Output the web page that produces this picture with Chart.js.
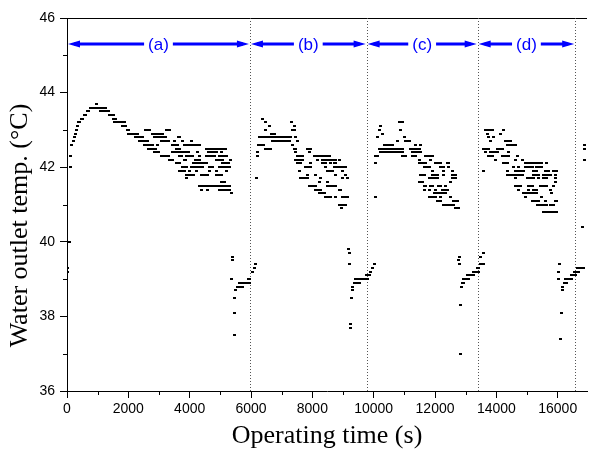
<!DOCTYPE html>
<html>
<head>
<meta charset="utf-8">
<script src="https://cdn.jsdelivr.net/npm/chart.js@4.4.1/dist/chart.umd.min.js"></script>
<style>
  html, body { margin: 0; padding: 0; background: #ffffff; overflow: hidden; }
</style>
</head>
<body>
<canvas id="outletChart" width="590" height="452"></canvas>
<script>
// Water outlet temperature readings.
// One row per 0.1 degC level: [temp, time (s), time (s), ...]
const phaseA = [
  [39.2, 30], [39.3, 0], [40.0, 75],
  [43.7, 960],
  [43.6, 760, 820, 880, 940, 1000, 1060, 1120, 1180, 1240],
  [43.5, 660, 710, 1100, 1160, 1220, 1280, 1340],
  [43.4, 560, 610, 1380, 1440, 1500],
  [43.3, 460, 500, 1520, 1580],
  [43.2, 380, 420, 1560, 1620, 1680, 1740, 1800, 1860],
  [43.1, 335, 1800, 1860, 1920],
  [43.0, 300, 1960, 1990, 2560, 2620, 2680, 3230, 3290, 3340],
  [42.9, 270, 2000, 2060, 2120, 2180, 2240, 2290, 2800, 2860, 2920, 2980, 3040, 3100],
  [42.8, 230, 2220, 2280, 2340, 2400, 2460, 2860, 2920, 2980, 3040, 3100, 3160, 3220, 3620, 3680],
  [42.7, 200, 2380, 2440, 2500, 2560, 2620, 3080, 3140, 3200, 3260, 3320, 3500, 3780, 4050],
  [42.6, 160, 2540, 2600, 2660, 2720, 2780, 2960, 3450, 3510, 3560, 3610, 3840, 3900, 3950, 4000, 4060, 4110, 4160, 4210, 4320],
  [42.5, 2660, 2720, 2780, 2840, 2900, 3560, 3620, 3680, 4540, 4600, 4660, 4720, 4780, 4860, 4980, 5040, 5100, 5180],
  [42.4, 2860, 2920, 2980, 3450, 3510, 3570, 3680, 3740, 3840, 3900, 3960, 4270, 4600, 4650, 4700, 4760, 4810, 4860, 5030],
  [42.3, 130, 3080, 3140, 3200, 3260, 3320, 3680, 3740, 3890, 3950, 4000, 4060, 4100, 4320, 4540, 4600, 4650, 4700, 4750, 4810, 4980, 5030, 5080, 5130, 5190],
  [42.2, 3340, 3400, 3450, 3840, 3880, 4200, 4260, 4310, 4870, 4920, 4980, 5030, 5080, 5340],
  [42.1, 3560, 3610, 3660, 4110, 4160, 4220, 4270, 4320, 4430, 4490, 4540, 5080, 5150, 5220, 5280],
  [42.0, 100, 3780, 3840, 3890, 4050, 4110, 4160, 4270, 4320, 4380, 4430, 4650, 4700, 4760, 4980, 5030, 5080, 5130, 5190, 5300],
  [41.9, 3680, 3730, 3780, 3840, 4000, 4220, 4650, 4870, 5190],
  [41.8, 3890, 3950, 4000, 4050, 4110, 4380, 4430, 4490, 4590, 4870, 4920, 4980, 5030],
  [41.7, 3890],
  [41.6, 5030, 5080, 5130],
  [41.5, 4320, 4380, 4430, 4490, 4540, 4590, 4650, 4700, 4760, 4810, 4860, 4980, 5030, 5080, 5130, 5190, 5240, 5300],
  [41.4, 4380, 4590, 4980, 5030, 5080, 5130, 5190, 5240, 5300],
  [41.3, 5350],
  [39.6, 5390], [39.5, 5390], [39.0, 5370, 5910, 5950],
  [38.9, 5610, 5660, 5710, 5760, 5810, 5860, 5910, 5960],
  [38.8, 5554, 5610, 5660, 5716],
  [38.7, 5500], [38.5, 5468], [38.1, 5468], [37.5, 5446]
];

const phaseB = [
  [39.2, 6060], [39.3, 6110], [39.4, 6146, 9200], [39.7, 9225], [39.8, 9170],
  [43.3, 6384],
  [43.2, 6470, 7304],
  [43.1, 6600, 7412],
  [43.0, 6470, 7358, 7412],
  [42.9, 6654, 6710, 6762],
  [42.8, 6276, 6330, 6384, 6440, 6500, 6560, 6620, 6680, 6740, 6800, 6860, 6920, 6980, 7040, 7100, 7160, 7220, 7280, 7466],
  [42.7, 6710, 6770, 6830, 6890, 6950, 7010, 7070, 7130, 7190, 7250, 7520],
  [42.6, 6254, 6300, 6360, 6420, 7358],
  [42.5, 6460, 6520, 6580, 6640, 7412, 7466, 7845, 7900, 7954],
  [42.4, 6222, 7466, 7899],
  [42.3, 6222, 7520, 7575, 7629, 7683, 8062, 8116, 8170, 8224, 8333, 8387, 8441, 8495, 8549],
  [42.2, 7466, 7520, 7575, 7629, 7683, 8170, 8333, 8387, 8441, 8495, 8549, 8603, 8658, 8766, 8874],
  [42.1, 7520, 7575, 7629, 7954, 8333, 8387, 8441, 8603, 8712, 8766],
  [42.0, 7791, 7845, 7900, 7954, 8441, 8712, 8766, 8820, 8874, 8930, 8983, 9040, 9091],
  [41.9, 7575, 8495, 8549, 8603, 8658, 8983],
  [41.8, 7845, 8116, 8766, 9070],
  [41.7, 6168, 7629, 7683, 7737, 7791, 7845, 8278, 8983, 9145],
  [41.6, 8224, 8495],
  [41.5, 7899, 7954, 8008, 8062, 8116, 8495, 8549, 8603, 8658, 8712, 8766],
  [41.4, 8116, 8170, 8224, 8278, 8874, 8928],
  [41.3, 8224, 8278, 8333, 8387],
  [41.2, 8441, 8495, 8549, 8603, 8766, 8983, 9040, 9091, 9145],
  [41.0, 8874, 8928, 8983, 9040, 9091],
  [40.9, 8960],
  [39.0, 9420, 9480, 9540, 9600, 9660, 9720],
  [38.9, 9370, 9420, 9480, 9530],
  [38.8, 9310], [38.7, 9310], [38.5, 9290], [37.8, 9260], [37.7, 9260],
  [39.1, 9750]
];

const phaseC = [
  [39.0, 9800], [39.1, 9850], [39.2, 9910], [39.3, 9960], [39.4, 10020],
  [43.2, 10830, 10890, 10940],
  [43.1, 10230],
  [43.0, 10180, 10890],
  [42.9, 10290],
  [42.8, 10120, 11000],
  [42.7, 10780, 11050, 11100, 11160],
  [42.6, 10340, 10400, 10450, 10500, 10560, 10610, 11370, 11530],
  [42.5, 10180, 10230, 10290, 10340, 10400, 10450, 10500, 10560, 10610, 10670, 10720, 10780, 10830, 10890, 10940, 11210, 11270, 11320, 11370, 11420, 11480],
  [42.4, 10230, 10290, 10340, 10400, 10450, 10560, 10610, 10670, 10720, 10780, 10830, 10890, 10940, 11270, 11320, 11370, 11420, 11480, 11530],
  [42.3, 10070, 10120, 10940, 11000, 11050, 11270, 11320, 11370, 11700, 11750, 11800, 11860, 11910],
  [42.2, 11480, 11860],
  [42.1, 10070, 11480, 11534, 11588, 11642, 11696, 12021, 12075, 12129, 12183, 12400, 12454],
  [42.0, 11642, 11750, 11805, 12183, 12238, 12292, 12454],
  [41.9, 11913, 12292, 12562],
  [41.8, 11534, 11588, 11642, 11913, 11967, 12021, 12075, 12292, 12562, 12616, 12670],
  [41.7, 11805, 11859, 11913, 11967, 12021, 12075, 12562, 12616, 12670],
  [41.6, 11480, 11534, 11588, 12508],
  [41.5, 11642, 11696, 11859, 11913, 12129, 12183, 12346],
  [41.4, 11642, 11805, 12021, 12238, 12292, 12346, 12400],
  [41.3, 11967, 12021, 12075, 12183, 12238, 12292, 12346],
  [41.2, 10050, 11805, 11913, 11967, 12021, 12183, 12508],
  [41.1, 12075, 12129, 12183, 12616, 12670, 12725],
  [41.0, 12292, 12346, 12400, 12454, 12508, 12562, 12616],
  [40.9, 12670, 12725, 12779],
  [39.6, 12800], [39.5, 12760], [39.4, 12800], [38.3, 12830], [37.0, 12830], [38.8, 12870],
  [38.9, 12890, 12940],
  [39.0, 12940, 12990, 13050, 13100],
  [39.1, 13050, 13100, 13160, 13210, 13260],
  [39.2, 13260, 13320, 13370],
  [39.3, 13370]
];

const phaseD = [
  [39.2, 13430], [39.3, 13430], [39.4, 13480, 13540, 13590], [39.6, 13480], [39.7, 13570],
  [43.0, 13645, 13700, 13754, 13808, 13862, 14241],
  [42.9, 13700, 14133],
  [42.8, 13754, 13916],
  [42.7, 13808, 14295, 14349, 14403, 14458],
  [42.6, 14349, 14458, 14512, 14566, 14620],
  [42.5, 13590, 13645, 13700, 13754, 14024, 14079, 14133, 14187],
  [42.4, 13645, 13808, 13862, 13916, 13970, 14024, 14403],
  [42.3, 13754, 13808, 13862, 14187, 14241, 14295, 14349, 14403, 14674],
  [42.2, 13970, 14620, 14837],
  [42.1, 14241, 14295, 14349, 14945, 15000, 15054, 15108, 15162, 15216, 15324, 15378, 15433, 15487, 15649],
  [42.0, 14566, 14729, 14945, 15000, 15054, 15108, 15162, 15324, 15378, 15487],
  [41.9, 13590, 14349, 14620, 14674, 14729, 14783, 14837, 14891, 15216, 15324, 15595, 15649, 15703, 15866, 15920, 15974],
  [41.8, 14349, 14403, 14458, 14512, 14566, 14620, 14674, 14729, 14783, 14837, 15216, 15270, 15324, 15378, 15541, 15595, 15649, 15703, 15757, 15920],
  [41.7, 14620, 15000, 15054, 15108, 15162, 15216, 15378, 15541, 15595, 15649, 15920],
  [41.6, 15920],
  [41.5, 14620, 14674, 14729, 14783, 15054, 15108, 15162, 15433, 15487, 15541, 15595, 15649, 15866],
  [41.4, 14729, 15054, 15216, 15270, 15324, 15757],
  [41.3, 14891, 14945, 15000, 15054, 15108, 15162, 15216, 15270, 15324, 15812],
  [41.2, 14945, 15487],
  [41.1, 15162, 15216, 15270, 15324, 15378, 15595, 15920, 15974],
  [41.0, 15330, 15430, 15540, 15650, 15760, 15870],
  [40.8, 15541, 15595, 15649, 15703, 15757, 15812, 15866, 15920, 15974],
  [39.4, 16050], [39.2, 16028], [39.0, 16028], [37.4, 16080], [38.1, 16110], [38.7, 16140], [38.8, 16170],
  [38.9, 16230, 16280],
  [39.0, 16250, 16300, 16350, 16400, 16460],
  [39.1, 16460, 16520, 16570],
  [39.2, 16550, 16610, 16680],
  [39.3, 16650, 16700, 16750, 16800, 16840],
  [40.4, 16820],
  [42.2, 16870], [42.5, 16870], [42.6, 16870]
];

// operating periods (a)-(d); boundaries in seconds
const periodEdges = [0, 5965, 9770, 13390, 16570];
const periodNames = ['(a)', '(b)', '(c)', '(d)'];
const arrowTemp = 45.3;

const xTickValues = [0, 2000, 4000, 6000, 8000, 10000, 12000, 14000, 16000];
const yTickValues = [36, 38, 40, 42, 44, 46];
const xMinorTicks = [1000, 3000, 5000, 7000, 9000, 11000, 13000, 15000];
const yMinorTicks = [37, 39, 41, 43, 45];

const yTitle = 'Water outlet temp. (\u00b0C)';

function toPoints(rows) {
  const pts = [];
  rows.forEach(row => {
    const temp = row[0];
    row.slice(1).forEach(t => pts.push({ x: t, y: temp }));
  });
  return pts;
}

// small black square marker
const marker = document.createElement('canvas');
marker.width = 3;
marker.height = 2;
const mctx = marker.getContext('2d');
mctx.fillStyle = '#000000';
mctx.fillRect(0, 0, 3, 2);

function series(label, rows) {
  return {
    label: label,
    data: toPoints(rows),
    pointStyle: marker,
    pointRadius: 2,
    pointHoverRadius: 2,
    showLine: false
  };
}

function arrowHead(ctx, tipX, y, dir) {
  ctx.beginPath();
  ctx.moveTo(tipX, y);
  ctx.lineTo(tipX + dir * 12, y - 3.5);
  ctx.lineTo(tipX + dir * 12, y + 3.5);
  ctx.closePath();
  ctx.fill();
}

const tickFont = { family: '"Liberation Sans", Arial, sans-serif', size: 14 };
const titleFont = { family: '"Liberation Serif", "Times New Roman", serif', size: 26 };

// frame, minor ticks, period separators, blue period arrows, y title
const periodMarks = {
  id: 'periodMarks',
  beforeDatasetsDraw(chart) {
    const { ctx, chartArea: area, scales: { x, y } } = chart;
    ctx.save();
    ctx.strokeStyle = '#000000';
    ctx.lineWidth = 1;
    ctx.beginPath();
    ctx.moveTo(area.left, area.top + 0.5);
    ctx.lineTo(area.right, area.top + 0.5);
    xMinorTicks.forEach(v => {
      const px = Math.round(x.getPixelForValue(v)) + 0.5;
      ctx.moveTo(px, area.bottom);
      ctx.lineTo(px, area.bottom + 4);
    });
    yMinorTicks.forEach(v => {
      const py = Math.round(y.getPixelForValue(v)) + 0.5;
      ctx.moveTo(area.left - 4, py);
      ctx.lineTo(area.left, py);
    });
    ctx.stroke();

    ctx.strokeStyle = '#555555';
    ctx.setLineDash([1, 2]);
    periodEdges.slice(1).forEach(v => {
      const px = Math.round(x.getPixelForValue(v)) + 0.5;
      ctx.beginPath();
      ctx.moveTo(px, area.top);
      ctx.lineTo(px, area.bottom);
      ctx.stroke();
    });
    ctx.restore();
  },
  afterDatasetsDraw(chart) {
    const { ctx, chartArea: area, scales: { x, y } } = chart;
    const py = y.getPixelForValue(arrowTemp);
    ctx.save();
    ctx.strokeStyle = '#0000ff';
    ctx.fillStyle = '#0000ff';
    ctx.lineWidth = 3;
    ctx.font = '17px "Liberation Sans", Arial, sans-serif';
    ctx.textAlign = 'center';
    ctx.textBaseline = 'middle';
    periodNames.forEach((name, i) => {
      const x0 = x.getPixelForValue(periodEdges[i]) + 1;
      const x1 = x.getPixelForValue(periodEdges[i + 1]) - 1;
      const mid = (x0 + x1) / 2;
      const half = ctx.measureText(name).width / 2 + 4;
      ctx.beginPath();
      ctx.moveTo(x0 + 6, py);
      ctx.lineTo(mid - half, py);
      ctx.moveTo(mid + half, py);
      ctx.lineTo(x1 - 6, py);
      ctx.stroke();
      arrowHead(ctx, x0, py, 1);
      arrowHead(ctx, x1, py, -1);
      ctx.fillText(name, mid, py + 1);
    });
    ctx.restore();

    // y axis title, set a little below the plot centre
    ctx.save();
    ctx.translate(20, (area.top + area.bottom) / 2 + 21);
    ctx.rotate(-Math.PI / 2);
    ctx.fillStyle = '#000000';
    ctx.font = titleFont.size + 'px ' + titleFont.family;
    ctx.textAlign = 'center';
    ctx.textBaseline = 'middle';
    ctx.fillText(yTitle, 0, 0);
    ctx.restore();
  }
};

const config = {
  type: 'scatter',
  data: {
    datasets: [
      series('a', phaseA),
      series('b', phaseB),
      series('c', phaseC),
      series('d', phaseD)
    ]
  },
  options: {
    responsive: false,
    animation: false,
    devicePixelRatio: 1,
    layout: { padding: { top: 18, right: 0, bottom: 0, left: 0 } },
    plugins: {
      legend: { display: false },
      tooltip: { enabled: false }
    },
    scales: {
      x: {
        type: 'linear',
        min: 0,
        max: 16955,
        afterFit(scale) { scale.height = 61; },
        afterBuildTicks(scale) { scale.ticks = xTickValues.map(v => ({ value: v })); },
        border: { display: true, color: '#000000', width: 1 },
        grid: { display: true, drawOnChartArea: false, drawTicks: true, tickLength: 7, color: '#000000' },
        ticks: {
          autoSkip: false,
          maxRotation: 0,
          color: '#000000',
          font: tickFont,
          padding: 3,
          callback: v => String(v)
        },
        title: {
          display: true,
          text: 'Operating time (s)',
          color: '#000000',
          font: titleFont,
          padding: { top: 0, bottom: 0 }
        }
      },
      y: {
        type: 'linear',
        min: 36,
        max: 46,
        afterFit(scale) { scale.width = 67; },
        afterBuildTicks(scale) { scale.ticks = yTickValues.map(v => ({ value: v })); },
        border: { display: true, color: '#000000', width: 1 },
        grid: { display: true, drawOnChartArea: false, drawTicks: true, tickLength: 7, color: '#000000' },
        ticks: {
          color: '#000000',
          font: tickFont,
          padding: 5,
          callback: v => String(v)
        },
        title: { display: false }
      }
    }
  },
  plugins: [periodMarks]
};

const context = document.getElementById('outletChart').getContext('2d');
const chart = new Chart(context, config);
</script>
</body>
</html>
